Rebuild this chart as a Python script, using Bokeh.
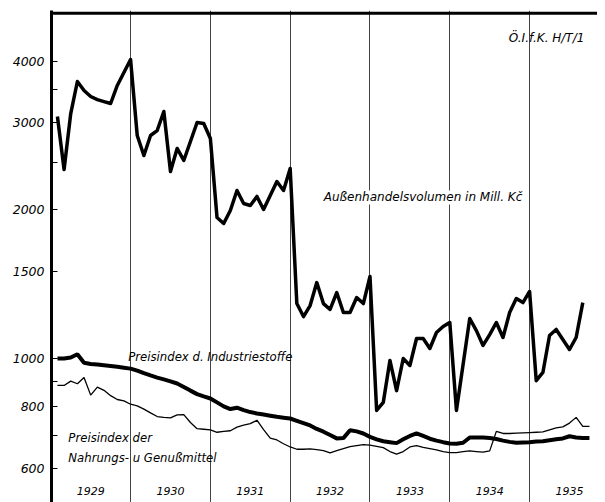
from bokeh.plotting import figure
from bokeh.models import Range1d, FixedTicker, Span, Label
from bokeh.core.properties import value
from bokeh.embed import file_html
from bokeh.resources import INLINE

# ---- data (monthly, Jan 1929 ...) ----
start_year = 1929
trade_volume = [  # Außenhandelsvolumen in Mill. Kč
    3090, 2414, 3134, 3639, 3489, 3393, 3345, 3314, 3284, 3572, 3795, 4031,
    2829, 2577, 2829, 2895, 3164, 2391, 2663, 2518, 2751, 3006, 2992, 2789,
    1930, 1877, 1994, 2189, 2060, 2041, 2129, 2003, 2139, 2283, 2189, 2425,
    1292, 1216, 1280, 1425, 1292, 1257, 1360, 1239, 1239, 1329, 1292, 1466,
    785, 815, 991, 861, 1000, 968, 1098, 1098, 1048, 1129, 1161, 1183,
    785, 972, 1205, 1139, 1063, 1118, 1183, 1103, 1239, 1323, 1298, 1367,
    902, 937, 1113, 1145, 1093, 1043, 1103, 1298,
]
index_industrie = [  # Preisindex d. Industriestoffe
    1000, 1000, 1005, 1020, 980, 975, 972, 969, 966, 962, 958, 954,
    945, 934, 924, 915, 907, 899, 890, 876, 861, 847, 838, 830,
    815, 800, 790, 795, 786, 779, 774, 770, 766, 762, 759, 756,
    748, 740, 732, 720, 711, 700, 689, 690, 716, 712, 705, 694,
    686, 680, 677, 674, 686, 697, 705, 697, 688, 682, 677, 673,
    672, 675, 692, 692, 692, 690, 687, 682, 678, 675, 676, 677,
    679, 680, 683, 686, 689, 696, 692, 690, 690,
]
index_nahrung = [  # Preisindex der Nahrungs- u. Genußmittel
    882, 882, 900, 889, 915, 843, 875, 862, 841, 826, 821, 808,
    802, 790, 776, 763, 760, 758, 769, 770, 742, 721, 719, 717,
    709, 712, 714, 726, 733, 738, 750, 718, 690, 684, 672, 662,
    655, 655, 656, 654, 651, 644, 651, 657, 663, 666, 669, 668,
    664, 660, 648, 640, 648, 662, 666, 661, 657, 653, 648, 645,
    645, 648, 650, 648, 646, 650, 712, 705, 705, 706, 707, 708,
    709, 710, 717, 724, 727, 740, 760, 729, 729,
]
years = [1929, 1930, 1931, 1932, 1933, 1934, 1935]
year_labels = [str(y) for y in years]
y_ticks = [600, 700, 800, 900, 1000, 1500, 2000, 2500, 3000, 3500, 4000]
y_unlabeled = [700, 900, 2500, 3500]


def month_x(n):
    return [start_year + (i + 1) / 12 for i in range(n)]


FONT = "DejaVu Sans"

p = figure(width=597, height=502, output_backend="svg", toolbar_location=None,
           y_axis_type="log",
           x_range=Range1d(1929.009, 1935.851), y_range=Range1d(511, 5067),
           min_border_left=51, min_border_right=0, min_border_top=10, min_border_bottom=0)
p.outline_line_color = None
p.background_fill_color = "white"
p.border_fill_color = "white"

p.xaxis.visible = False
p.ygrid.visible = False
p.xgrid.ticker = FixedTicker(ticks=years[1:])
p.xgrid.grid_line_color = "#444444"
p.xgrid.grid_line_width = 1

ax = p.yaxis[0]
ax.ticker = FixedTicker(ticks=y_ticks)
ax.major_label_overrides = {t: "" for t in y_unlabeled}
ax.axis_line_width = 3
ax.axis_line_color = "black"
ax.major_tick_in = 6
ax.major_tick_out = 0
ax.major_tick_line_color = "black"
ax.minor_tick_line_color = None
ax.major_label_standoff = 7
ax.major_label_text_font = FONT
ax.major_label_text_font_style = "italic"
ax.major_label_text_font_size = "12.5px"
ax.major_label_text_color = "black"

p.add_layout(Span(location=5000, dimension="width", line_color="black", line_width=3))

# series
p.line(month_x(len(index_nahrung)), index_nahrung, line_color="black", line_width=1.3)
p.line(month_x(len(index_industrie)), index_industrie, line_color="black", line_width=4)
p.line(month_x(len(trade_volume)), trade_volume, line_color="black", line_width=3.5,
       line_join="round")

# year labels
p.text(x=[y + 0.5 for y in years], y=[540] * len(years), text=year_labels,
       text_align="center", text_baseline="middle", text_font=value(FONT),
       text_font_style="italic", text_font_size="11px", text_color="black")

label_kw = dict(text_font=FONT, text_font_style="italic",
                text_color="black", text_baseline="middle")
p.add_layout(Label(x=1932.42, y=2119, text="Außenhandelsvolumen in Mill. Kč",
                   text_font_size="12px", background_fill_color="white", **label_kw))
p.add_layout(Label(x=1929.97, y=1005, text="Preisindex d. Industriestoffe",
                   text_font_size="11.7px", **label_kw))
p.add_layout(Label(x=1929.22, y=689, text="Preisindex der",
                   text_font_size="11.7px", **label_kw))
p.add_layout(Label(x=1929.22, y=630, text="Nahrungs- u Genußmittel",
                   text_font_size="11.7px", **label_kw))
p.add_layout(Label(x=1934.74, y=4467, text="Ö.I.f.K.  H/T/1",
                   text_font_size="12px", **label_kw))

open("out.html", "w").write(file_html(p, INLINE))
